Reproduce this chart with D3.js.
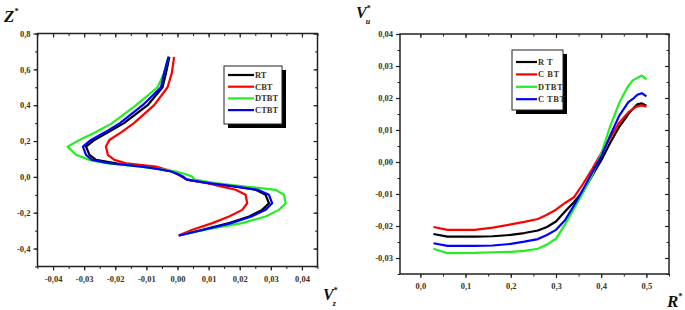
<!DOCTYPE html>
<html>
<head>
<meta charset="utf-8">
<script src="https://cdn.jsdelivr.net/npm/d3@7/dist/d3.min.js"></script>
<style>
	body { margin: 0; background: #fff; }
	svg { display: block; }
	.tick text { font-family: 'Liberation Serif', 'DejaVu Serif', serif; font-weight: bold; font-size: 8.5px; fill: #3d3320; }
</style>
</head>
<body>
<div id="chart"></div>
<script>
// ---- data: left panel, Z* against Vz*
var seriesNames = ['RT', 'CBT', 'DTBT', 'CTBT'];
var seriesColors = ['#000000', '#ff0000', '#22ee22', '#0000ff'];

var zLevels = [-0.327, -0.295, -0.258, -0.221, -0.184, -0.147, -0.1, -0.072, -0.054, -0.035, -0.015, 0.002, 0.015, 0.03, 0.045, 0.057, 0.076, 0.095, 0.123, 0.169, 0.206, 0.25, 0.3, 0.4, 0.5, 0.58, 0.67];
var vzRT   = [0.0005, 0.008, 0.0166, 0.023, 0.0272, 0.0294, 0.0283, 0.0251, 0.0187, 0.0102, 0.003, 0.0016, 0.0002, -0.0018, -0.006, -0.0101, -0.0197, -0.0262, -0.0283, -0.0294, -0.0267, -0.0222, -0.0172, -0.0096, -0.0048, -0.0037, -0.0026];
var vzCBT  = [0.0003, 0.0048, 0.0112, 0.0166, 0.0208, 0.0224, 0.0219, 0.0187, 0.0143, 0.0095, 0.003, 0.0014, 0.0, -0.0015, -0.0045, -0.0069, -0.0165, -0.0203, -0.0224, -0.023, -0.0219, -0.018, -0.014, -0.0075, -0.0032, -0.0018, -0.0011];
var vzDTBT = [0.0005, 0.0088, 0.0208, 0.0283, 0.0326, 0.0348, 0.0342, 0.0315, 0.022, 0.012, 0.0055, 0.0047, 0.0027, -0.0005, -0.006, -0.012, -0.023, -0.0283, -0.0326, -0.0353, -0.0315, -0.0262, -0.021, -0.0133, -0.0064, -0.0043, -0.0029];
var vzCTBT = [0.0005, 0.0085, 0.0172, 0.0238, 0.0283, 0.0304, 0.0294, 0.0258, 0.019, 0.0102, 0.003, 0.0016, 0.0002, -0.002, -0.0065, -0.0115, -0.0219, -0.0275, -0.0294, -0.0304, -0.0278, -0.0232, -0.0185, -0.0112, -0.0053, -0.0043, -0.0029];

// ---- data: right panel, Vu* against R*
var rLevels = [0.029, 0.06, 0.12, 0.16, 0.2, 0.23, 0.26, 0.28, 0.3, 0.32, 0.34, 0.36, 0.38, 0.4, 0.42, 0.44, 0.46, 0.47, 0.48, 0.49, 0.5];
var vuRT   = [-0.0225, -0.0233, -0.0233, -0.0232, -0.0228, -0.0222, -0.0214, -0.0203, -0.0186, -0.0155, -0.0125, -0.0092, -0.0043, 0.0005, 0.006, 0.011, 0.015, 0.0166, 0.018, 0.0183, 0.0176];
var vuCBT  = [-0.0203, -0.0212, -0.0212, -0.0205, -0.0195, -0.0187, -0.0178, -0.0165, -0.0149, -0.0128, -0.011, -0.0068, -0.0022, 0.0027, 0.0075, 0.0123, 0.0155, 0.0166, 0.0174, 0.0177, 0.0173];
var vuDTBT = [-0.0271, -0.0285, -0.0284, -0.0282, -0.0281, -0.0278, -0.0271, -0.0258, -0.024, -0.0195, -0.0145, -0.0095, -0.004, 0.0025, 0.0112, 0.0185, 0.0238, 0.0255, 0.0263, 0.027, 0.0258];
var vuCTBT = [-0.0254, -0.0262, -0.0262, -0.0261, -0.0256, -0.0249, -0.0241, -0.0228, -0.0212, -0.0182, -0.0135, -0.0085, -0.0033, 0.0017, 0.0083, 0.0145, 0.0187, 0.0197, 0.021, 0.0215, 0.0205];

// ---- tick values
var leftXTicks = [-0.04, -0.03, -0.02, -0.01, 0, 0.01, 0.02, 0.03, 0.04];
var leftYTicks = [-0.4, -0.2, 0, 0.2, 0.4, 0.6, 0.8];
var rightXTicks = [0, 0.1, 0.2, 0.3, 0.4, 0.5];
var rightYTicks = [-0.03, -0.02, -0.01, 0, 0.01, 0.02, 0.03, 0.04];

var locale = d3.formatLocale({ decimal: ',', thousands: ' ', grouping: [3], currency: ['', ''], minus: '-' });

var svg = d3.select('#chart')
	.append('svg')
	.attr('width', 685)
	.attr('height', 310)
;

var serif = "'Liberation Serif', 'DejaVu Serif', serif";

// left panel
drawPanel({
	x: d3.scaleLinear().domain([-0.045, 0.045]).range([37.5, 317.5]),
	y: d3.scaleLinear().domain([-0.5, 0.8]).range([266.5, 33.5]),
	xTicks: leftXTicks, xMinor: 0.005, xFmt: locale.format('.2f'),
	yTicks: leftYTicks, yMinor: 0.1, yFmt: locale.format('.1f'),
	series: [vzRT, vzCBT, vzDTBT, vzCTBT].map(function(v) {
		return v.map(function(d, i) { return [d, zLevels[i]]; });
	}),
	legend: { x: 224, y: 66, w: 58, h: 58, rowY: 9, step: 11.7, lineLen: 26, names: seriesNames, spacing: 0 }
});

// right panel
drawPanel({
	x: d3.scaleLinear().domain([-0.045, 0.55]).range([400, 669]),
	y: d3.scaleLinear().domain([-0.035, 0.04]).range([274, 34]),
	xTicks: rightXTicks, xMinor: 0.05, xFmt: locale.format('.1f'),
	yTicks: rightYTicks, yMinor: 0.005, yFmt: locale.format('.2f'),
	series: [vuRT, vuCBT, vuDTBT, vuCTBT].map(function(v) {
		return v.map(function(d, i) { return [rLevels[i], d]; });
	}),
	legend: { x: 512, y: 50, w: 51, h: 60, rowY: 12, step: 12.4, lineLen: 21, names: ['R T', 'C BT', 'DTBT', 'C TBT'], spacing: 0.5 }
});

// axis titles
axisTitle(4, 22, 'Z', null, 17);
axisTitle(323, 300, 'V', 'z', 16);
axisTitle(356, 18, 'V', 'u', 16);
axisTitle(667, 307, 'R', null, 17);

function axisTitle(x, y, main, sub, size) {
	var t = svg.append('text')
		.attr('x', x)
		.attr('y', y)
		.style('font-family', serif)
		.style('font-style', 'italic')
		.style('font-weight', 'bold')
		.style('font-size', size + 'px')
		.style('fill', '#111')
		.text(main)
	;
	t.append('tspan')
		.attr('dy', -size * 0.45)
		.style('font-size', (size * 0.5) + 'px')
		.style('font-style', 'normal')
		.text('*')
	;
	if (sub) {
		t.append('tspan')
			.attr('dx', -size * 0.3)
			.attr('dy', size * 0.85)
			.style('font-size', (size * 0.5) + 'px')
			.text(sub)
		;
	}
}

function drawPanel(p) {
	var x = p.x, y = p.y;
	var x0 = x.range()[0], x1 = x.range()[1];
	var y0 = y.range()[1], y1 = y.range()[0];
	var g = svg.append('g');

	var xMinorTicks = d3.range(Math.ceil(x.domain()[0] / p.xMinor), Math.floor(x.domain()[1] / p.xMinor) + 1).map(function(k) { return +(k * p.xMinor).toFixed(4); });
	var yMinorTicks = d3.range(Math.ceil(y.domain()[0] / p.yMinor), Math.floor(y.domain()[1] / p.yMinor) + 1).map(function(k) { return +(k * p.yMinor).toFixed(4); });

	// minor ticks, all four sides
	[[d3.axisBottom(x), 'translate(0,' + y1 + ')', 2.5, xMinorTicks],
	 [d3.axisTop(x), 'translate(0,' + y0 + ')', -2.5, xMinorTicks],
	 [d3.axisLeft(y), 'translate(' + x0 + ',0)', 2.5, yMinorTicks],
	 [d3.axisRight(y), 'translate(' + x1 + ',0)', -2.5, yMinorTicks]].forEach(function(a) {
		g.append('g')
			.attr('transform', a[1])
			.call(a[0].tickValues(a[3]).tickSize(a[2]).tickFormat(''))
			.call(function(s) { s.select('.domain').remove(); })
			.selectAll('line').attr('stroke', '#222').attr('stroke-width', 1)
		;
	});

	// major ticks with labels (bottom, left)
	g.append('g')
		.attr('transform', 'translate(0,' + y1 + ')')
		.call(d3.axisBottom(x).tickValues(p.xTicks).tickSize(4).tickPadding(5).tickFormat(p.xFmt))
		.call(function(s) { s.select('.domain').remove(); })
		.selectAll('line').attr('stroke', '#222').attr('stroke-width', 1.2)
	;
	g.append('g')
		.attr('transform', 'translate(' + x0 + ',0)')
		.call(d3.axisLeft(y).tickValues(p.yTicks).tickSize(4).tickPadding(3).tickFormat(p.yFmt))
		.call(function(s) { s.select('.domain').remove(); })
		.selectAll('line').attr('stroke', '#222').attr('stroke-width', 1.2)
	;
	g.append('g')
		.attr('transform', 'translate(0,' + y0 + ')')
		.call(d3.axisTop(x).tickValues(p.xTicks).tickSize(-4).tickFormat(''))
		.call(function(s) { s.select('.domain').remove(); })
		.selectAll('line').attr('stroke', '#222').attr('stroke-width', 1.2)
	;
	g.append('g')
		.attr('transform', 'translate(' + x1 + ',0)')
		.call(d3.axisRight(y).tickValues(p.yTicks).tickSize(-4).tickFormat(''))
		.call(function(s) { s.select('.domain').remove(); })
		.selectAll('line').attr('stroke', '#222').attr('stroke-width', 1.2)
	;

	// frame
	g.append('rect')
		.attr('x', x0)
		.attr('y', y0)
		.attr('width', x1 - x0)
		.attr('height', y1 - y0)
		.attr('fill', 'none')
		.attr('stroke', '#222')
		.attr('stroke-width', 1.5)
	;

	// curves
	var line = d3.line()
		.x(function(d) { return x(d[0]); })
		.y(function(d) { return y(d[1]); })
	;
	p.series.forEach(function(s, i) {
		g.append('path')
			.datum(s)
			.attr('d', line)
			.attr('fill', 'none')
			.attr('stroke', seriesColors[i])
			.attr('stroke-width', 2.2)
			.attr('stroke-linejoin', 'round')
		;
	});

	// legend with drop shadow
	var L = p.legend;
	var lg = g.append('g').attr('transform', 'translate(' + L.x + ',' + L.y + ')');
	lg.append('rect')
		.attr('x', 4).attr('y', 4)
		.attr('width', L.w).attr('height', L.h)
		.attr('fill', '#000')
	;
	lg.append('rect')
		.attr('width', L.w).attr('height', L.h)
		.attr('fill', '#fff')
		.attr('stroke', '#222')
		.attr('stroke-width', 1)
	;
	L.names.forEach(function(n, i) {
		var yy = L.rowY + i * L.step;
		lg.append('line')
			.attr('x1', 4).attr('x2', 4 + L.lineLen)
			.attr('y1', yy).attr('y2', yy)
			.attr('stroke', seriesColors[i])
			.attr('stroke-width', 2.2)
		;
		lg.append('text')
			.attr('x', 5 + L.lineLen)
			.attr('y', yy + 3)
			.style('font-family', serif)
			.style('font-weight', 'bold')
			.style('font-size', '8.5px')
			.style('letter-spacing', L.spacing + 'px')
			.style('fill', '#3d3320')
			.text(n)
		;
	});
}
</script>
</body>
</html>
